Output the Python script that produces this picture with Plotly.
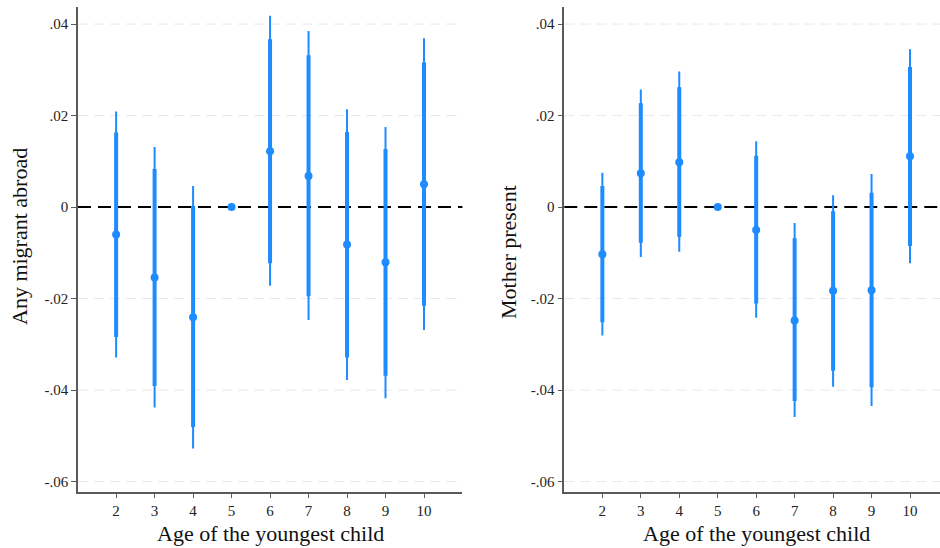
import plotly.graph_objects as go

ages = [2, 3, 4, 5, 6, 7, 8, 9, 10]

# Panel 1: Any migrant abroad
mig_est = [-0.0060, -0.0154, -0.0241, 0.0, 0.0122, 0.0068, -0.0082, -0.0121, 0.0050]
mig_lo95 = [-0.0329, -0.0438, -0.0528, None, -0.0172, -0.0247, -0.0378, -0.0418, -0.0269]
mig_hi95 = [0.0209, 0.0131, 0.0046, None, 0.0418, 0.0385, 0.0214, 0.0175, 0.0369]
mig_lo90 = [-0.0284, -0.0391, -0.0481, None, -0.0123, -0.0195, -0.0329, -0.0369, -0.0216]
mig_hi90 = [0.0163, 0.0083, 0.0002, None, 0.0367, 0.0332, 0.0164, 0.0127, 0.0316]

# Panel 2: Mother present
mom_est = [-0.0103, 0.0074, 0.0098, 0.0, -0.0050, -0.0248, -0.0183, -0.0182, 0.0111]
mom_lo95 = [-0.0281, -0.0109, -0.0098, None, -0.0242, -0.0459, -0.0393, -0.0435, -0.0123]
mom_hi95 = [0.0075, 0.0257, 0.0296, None, 0.0144, -0.0035, 0.0026, 0.0072, 0.0345]
mom_lo90 = [-0.0252, -0.0078, -0.0065, None, -0.0211, -0.0424, -0.0358, -0.0394, -0.0085]
mom_hi90 = [0.0046, 0.0227, 0.0262, None, 0.0112, -0.0068, -0.0009, 0.0031, 0.0306]

ytick_vals = [-0.06, -0.04, -0.02, 0, 0.02, 0.04]
ytick_text = ["-.06", "-.04", "-.02", "0", ".02", ".04"]

x_title = "Age of the youngest child"
y_titles = ["Any migrant abroad", "Mother present"]

BLUE = "#1E8BFF"
FONT = "Liberation Serif"

def segs(xs, lo, hi):
    X, Y = [], []
    for x, a, b in zip(xs, lo, hi):
        if a is None or b is None:
            continue
        X += [x, x, None]
        Y += [a, b, None]
    return X, Y

fig = go.Figure()

panels = [
    (mig_est, mig_lo95, mig_hi95, mig_lo90, mig_hi90, "x", "y"),
    (mom_est, mom_lo95, mom_hi95, mom_lo90, mom_hi90, "x2", "y2"),
]
for est, lo95, hi95, lo90, hi90, xa, ya in panels:
    X, Y = segs(ages, lo95, hi95)
    fig.add_trace(go.Scatter(x=X, y=Y, mode="lines", line=dict(color=BLUE, width=2),
                             xaxis=xa, yaxis=ya, showlegend=False, hoverinfo="skip"))
    X, Y = segs(ages, lo90, hi90)
    fig.add_trace(go.Scatter(x=X, y=Y, mode="lines", line=dict(color=BLUE, width=4),
                             xaxis=xa, yaxis=ya, showlegend=False, hoverinfo="skip"))
    fig.add_trace(go.Scatter(x=ages, y=est, mode="markers",
                             marker=dict(color=BLUE, size=8),
                             xaxis=xa, yaxis=ya, showlegend=False))

for xr in ["x", "x2"]:
    yr = "y" if xr == "x" else "y2"
    for v in ytick_vals:
        if v == 0:
            continue
        fig.add_shape(type="line", xref=f"{xr} domain", yref=yr, x0=0, x1=1, y0=v, y1=v,
                      line=dict(color="#e8e8e8", width=1, dash="10px,6px"), layer="below")
    fig.add_shape(type="line", xref=f"{xr} domain", yref=yr, x0=0, x1=1, y0=0, y1=0,
                  line=dict(color="black", width=1.8, dash="13px,7px"), layer="below")

yrange = [-0.0622, 0.0437]
common_y = dict(range=yrange, tickvals=ytick_vals, ticktext=ytick_text,
                showgrid=False, zeroline=False, showline=True, linecolor="#5a5a5a", linewidth=1.5,
                ticks="outside", ticklen=5, tickcolor="#5a5a5a",
                tickfont=dict(family=FONT, size=15, color="#222"))
common_x = dict(tickvals=ages, ticktext=[str(a) for a in ages],
                showgrid=False, zeroline=False, showline=True, linecolor="#5a5a5a", linewidth=1.5,
                ticks="outside", ticklen=5, tickcolor="#5a5a5a",
                tickfont=dict(family=FONT, size=15, color="#222"))

title_font = dict(family=FONT, size=22, color="#111")
annotations = [
    dict(text=x_title, xref="paper", yref="paper", x=270 / 940, y=1 - 533 / 548,
         xanchor="center", yanchor="middle", showarrow=False, font=title_font),
    dict(text=x_title, xref="paper", yref="paper", x=756 / 940, y=1 - 533 / 548,
         xanchor="center", yanchor="middle", showarrow=False, font=title_font),
    dict(text=y_titles[0], xref="paper", yref="paper", x=19 / 940, y=1 - 237 / 548,
         xanchor="center", yanchor="middle", showarrow=False, textangle=-90, font=title_font),
    dict(text=y_titles[1], xref="paper", yref="paper", x=508 / 940, y=1 - 252 / 548,
         xanchor="center", yanchor="middle", showarrow=False, textangle=-90, font=title_font),
]

fig.update_layout(
    width=940, height=548,
    margin=dict(l=0, r=0, t=0, b=0),
    plot_bgcolor="white", paper_bgcolor="white",
    xaxis=dict(domain=[0.083, 0.492], range=[1.01, 11.0], anchor="y", **common_x),
    yaxis=dict(domain=[0.103, 0.987], anchor="x", **common_y),
    xaxis2=dict(domain=[0.6003, 1.0], range=[1.01, 10.78], anchor="y2", **common_x),
    yaxis2=dict(domain=[0.103, 0.987], anchor="x2", **common_y),
    annotations=annotations,
)

fig.write_html("out.html")
